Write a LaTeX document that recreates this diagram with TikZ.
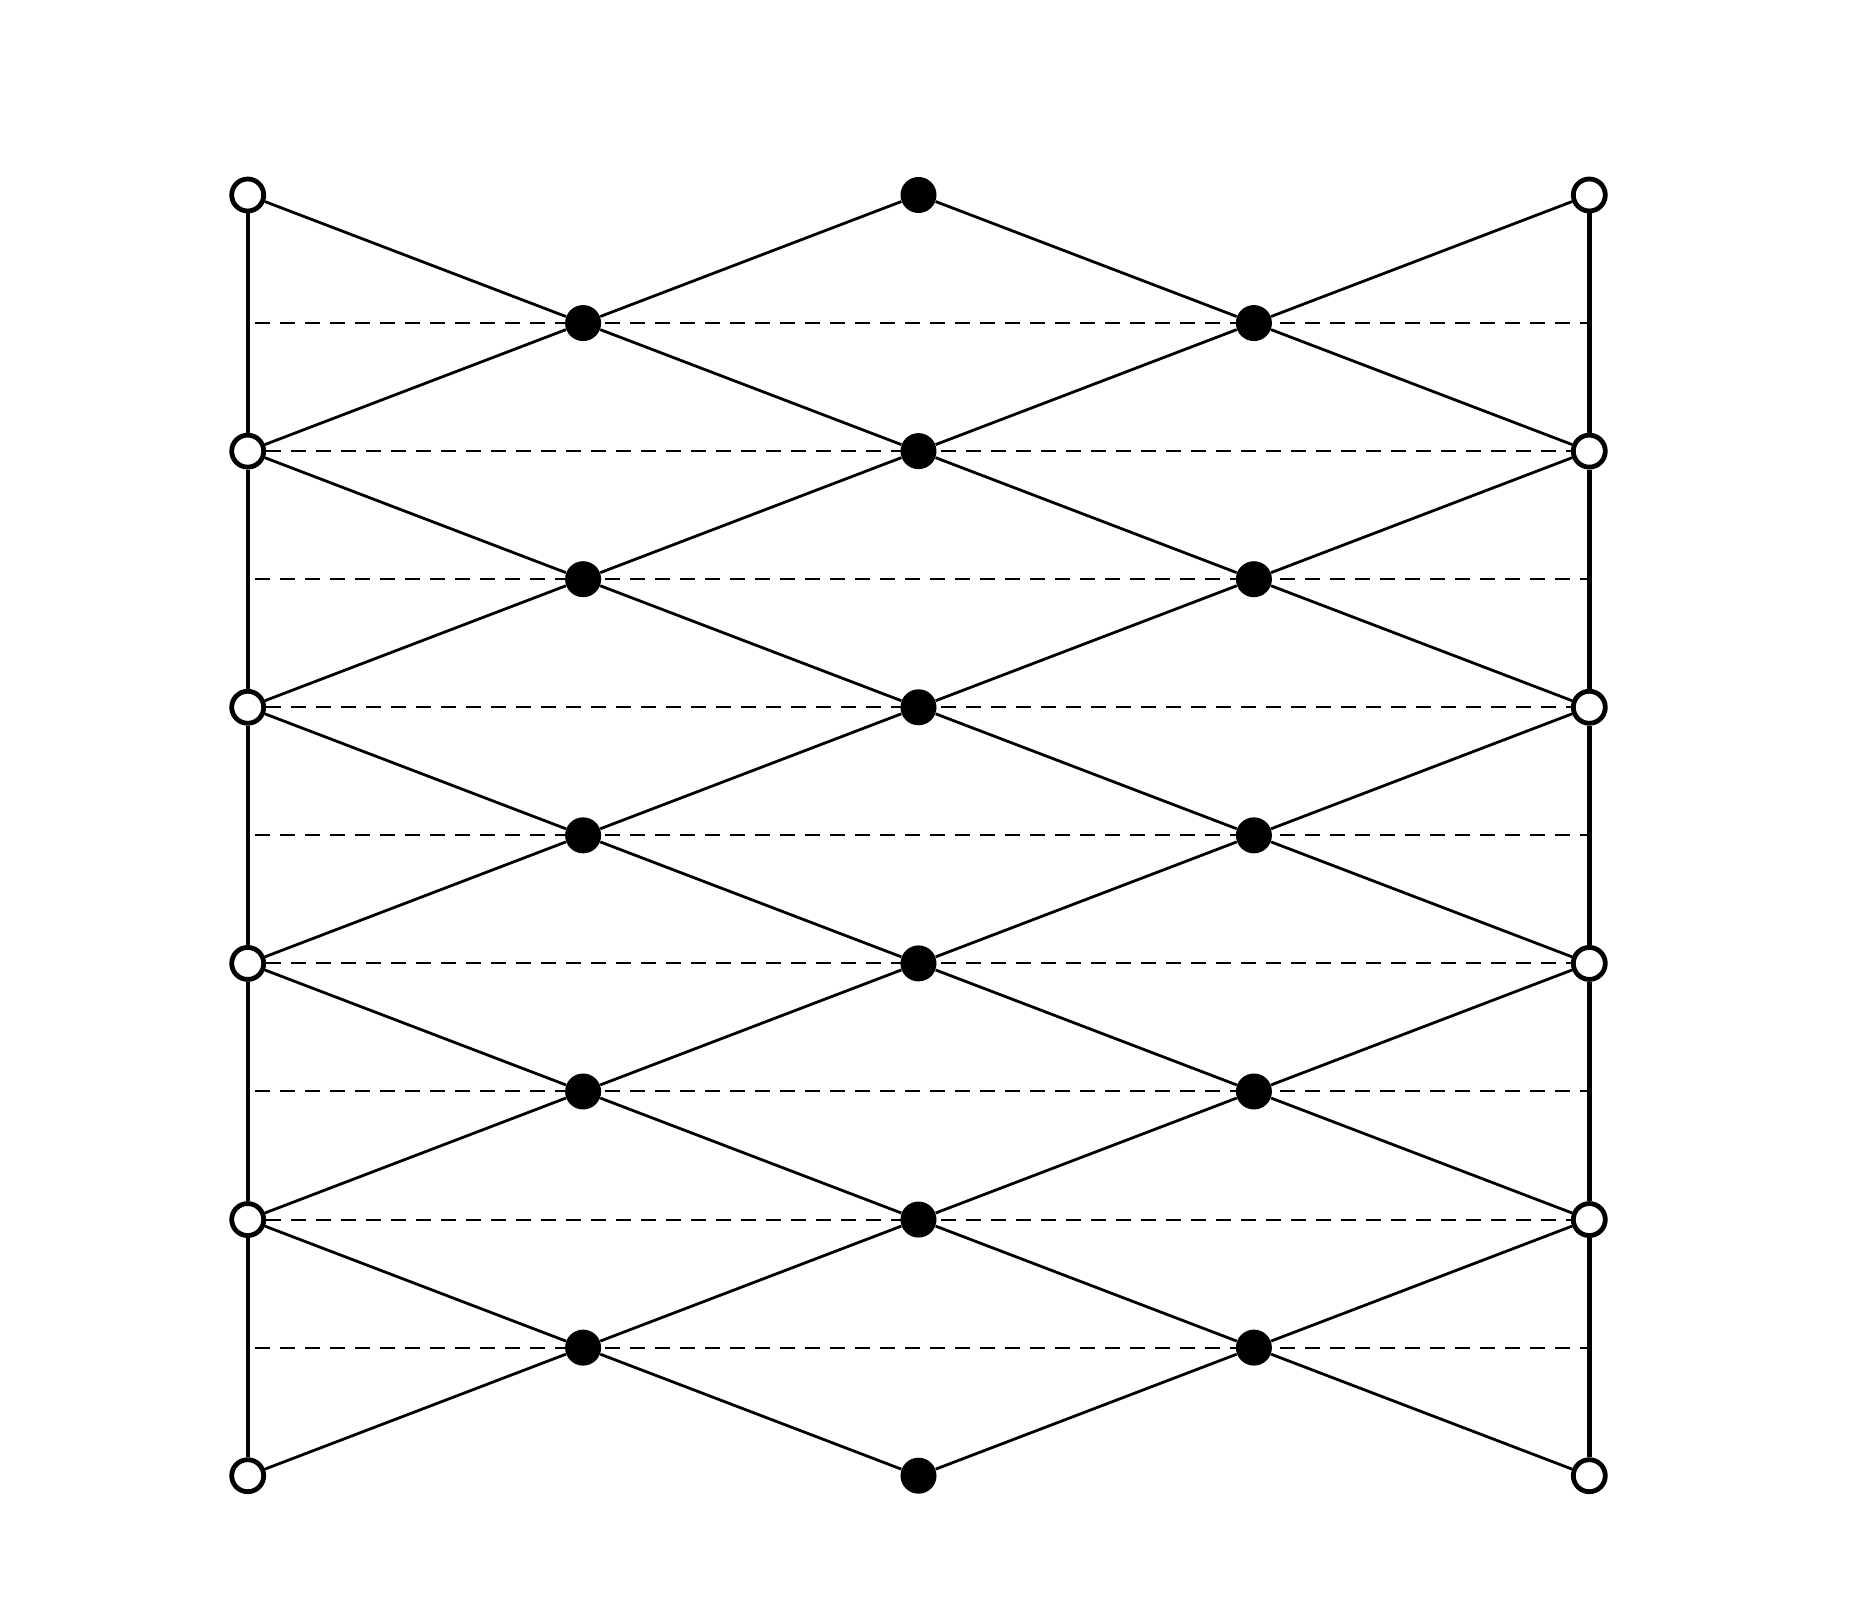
\documentclass[tikz,border=0pt]{standalone}
\usetikzlibrary{backgrounds}
\begin{document}
\begin{tikzpicture}[x=0.5pt,y=-0.5pt,
  openv/.style={circle,draw=black,line width=2.4pt,fill=white,minimum size=16pt,inner sep=0pt},
  fillv/.style={circle,fill=black,draw=none,minimum size=18pt,inner sep=0pt},
  diag/.style={line width=1.4pt,black},
  rail/.style={line width=2.2pt,black},
  dashln/.style={line width=1pt,black,dash pattern=on 7.5pt off 5pt}]
\useasboundingbox (0,0) rectangle (1854,1609);
% nodes
\foreach \j in {0,2,...,10} {
  \node[openv] (L\j) at (247.7,{195+128.07*\j}) {};
  \node[openv] (R\j) at (1589.3,{195+128.07*\j}) {};
  \node[fillv] (M\j) at (918.5,{195+128.07*\j}) {};
}
\foreach \j in {1,3,...,9} {
  \node[fillv] (A\j) at (583.1,{195+128.07*\j}) {};
  \node[fillv] (B\j) at (1253.9,{195+128.07*\j}) {};
  \coordinate (dl\j) at (255,{195+128.07*\j});
  \coordinate (dr\j) at (1589.3,{195+128.07*\j});
}
\begin{scope}[on background layer]
  \fill[white] (0,0) rectangle (1854,1609);
  % dashed lines
  \foreach \j in {1,3,...,9} { \draw[dashln] (dl\j) -- (dr\j); }
  \foreach \j in {2,4,6,8} { \draw[dashln] (L\j) -- (R\j); }
  % rails
  \foreach \j [evaluate=\j as \n using int(\j+2)] in {0,2,...,8} {
    \draw[rail] (L\j) -- (L\n);
    \draw[rail] (R\j) -- (R\n);
  }
  % diagonals
  \foreach \j [evaluate=\j as \p using int(\j-1), evaluate=\j as \n using int(\j+1)] in {1,3,...,9} {
    \draw[diag] (A\j) -- (L\p);
    \draw[diag] (A\j) -- (L\n);
    \draw[diag] (A\j) -- (M\p);
    \draw[diag] (A\j) -- (M\n);
    \draw[diag] (B\j) -- (M\p);
    \draw[diag] (B\j) -- (M\n);
    \draw[diag] (B\j) -- (R\p);
    \draw[diag] (B\j) -- (R\n);
  }
\end{scope}
\end{tikzpicture}
\end{document}
